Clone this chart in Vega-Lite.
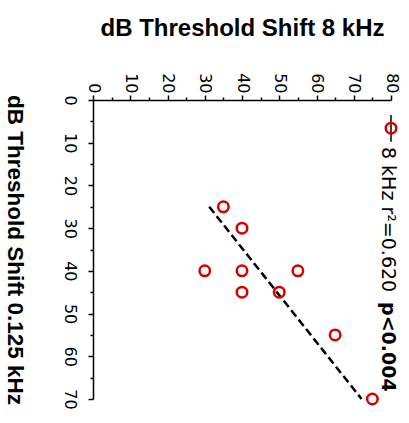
{
  "$schema": "https://vega.github.io/schema/vega-lite/v6.json",
  "autosize": "none",
  "width": 298,
  "height": 299,
  "padding": {"left": 93, "top": 100, "right": 18, "bottom": 24},
  "background": "white",
  "config": {
    "view": {"stroke": null},
    "font": "Liberation Sans",
    "axis": {"grid": false, "ticks": true, "domainColor": "black", "tickColor": "black", "labelColor": "black", "titleColor": "black", "domainWidth": 1.5, "tickWidth": 1.5}
  },
  "resolve": {"axis": {"x": "independent", "y": "independent"}},
  "datasets": {
    "points": [
      {"x8": 35, "y0125": 25},
      {"x8": 40, "y0125": 30},
      {"x8": 30, "y0125": 40},
      {"x8": 40, "y0125": 40},
      {"x8": 55, "y0125": 40},
      {"x8": 40, "y0125": 45},
      {"x8": 50, "y0125": 45},
      {"x8": 65, "y0125": 55},
      {"x8": 75, "y0125": 70}
    ],
    "fit": [
      {"x8": 31.2, "y0125": 25},
      {"x8": 72.1, "y0125": 70}
    ],
    "one": [{}]
  },
  "layer": [
    {
      "data": {"name": "fit"},
      "mark": {"type": "line", "color": "black", "strokeWidth": 2.5, "strokeDash": [8, 4]},
      "encoding": {
        "x": {"field": "x8", "type": "quantitative", "scale": {"domain": [0, 80], "nice": false, "zero": false},
          "axis": {
            "orient": "top", "values": [0,5,10,15,20,25,30,35,40,45,50,55,60,65,70,75,80],
            "labelExpr": "datum.value % 10 === 0 ? datum.label : ''",
            "labelOverlap": false,
            "ticks": true,
            "tickSize": {"condition": {"test": "datum.value % 10 === 0", "value": 5}, "value": 3},
            "labelAngle": 90, "labelAlign": "right", "labelBaseline": "middle",
            "labelFont": "DejaVu Sans", "labelFontSize": 16, "labelPadding": 2,
            "title": "dB Threshold Shift 8 kHz", "titleFontSize": 24, "titleFontWeight": "bold", "titlePadding": 32
          }
        },
        "y": {"field": "y0125", "type": "quantitative", "scale": {"domain": [0, 70], "nice": false, "zero": false, "reverse": true},
          "axis": {
            "orient": "left", "values": [0,5,10,15,20,25,30,35,40,45,50,55,60,65,70],
            "labelExpr": "datum.value % 10 === 0 ? datum.label : ''",
            "labelOverlap": false,
            "ticks": true,
            "tickSize": {"condition": {"test": "datum.value % 10 === 0", "value": 5}, "value": 3},
            "labelAngle": 90, "labelAlign": "center", "labelBaseline": "top",
            "labelFont": "DejaVu Sans", "labelFontSize": 16, "labelPadding": 11,
            "title": "dB Threshold Shift 0.125 kHz", "titleFontSize": 22.5, "titleFontWeight": "bold",
            "titleAngle": 90, "titleBaseline": "top", "titlePadding": 36
          }
        }
      }
    },
    {
      "data": {"name": "points"},
      "mark": {"type": "point", "shape": "circle", "filled": false, "color": "#d40000", "strokeWidth": 2.5, "size": 110, "opacity": 1},
      "encoding": {
        "x": {"field": "x8", "type": "quantitative", "axis": null},
        "y": {"field": "y0125", "type": "quantitative", "axis": null}
      }
    },
    {
      "data": {"name": "one"},
      "mark": {"type": "rule", "color": "black", "strokeWidth": 1.5},
      "encoding": {
        "x": {"datum": 80, "type": "quantitative", "axis": null},
        "y": {"datum": 3.5, "type": "quantitative", "axis": null},
        "y2": {"datum": 9.8}
      }
    },
    {
      "data": {"name": "one"},
      "mark": {"type": "point", "shape": "circle", "filled": false, "color": "#d40000", "strokeWidth": 2.5, "size": 110, "opacity": 1},
      "encoding": {
        "x": {"datum": 80, "type": "quantitative", "axis": null},
        "y": {"datum": 6.6, "type": "quantitative", "axis": null}
      }
    },
    {
      "data": {"name": "one"},
      "mark": {"type": "text", "angle": 90, "align": "left", "baseline": "middle", "font": "DejaVu Sans", "fontSize": 19, "color": "black", "text": "8 kHz r²=0.620"},
      "encoding": {
        "x": {"datum": 79.2, "type": "quantitative", "axis": null},
        "y": {"datum": 11, "type": "quantitative", "axis": null}
      }
    },
    {
      "data": {"name": "one"},
      "mark": {"type": "text", "angle": 90, "align": "left", "baseline": "middle", "font": "DejaVu Sans", "fontSize": 19, "fontWeight": "bold", "color": "black", "text": "p<0.004"},
      "encoding": {
        "x": {"datum": 79.2, "type": "quantitative", "axis": null},
        "y": {"datum": 47.3, "type": "quantitative", "axis": null}
      }
    }
  ]
}
